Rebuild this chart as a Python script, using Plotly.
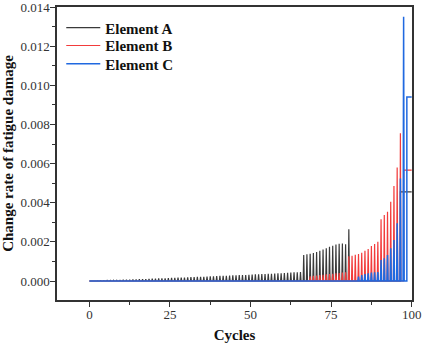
import plotly.graph_objects as go

# Change rate of fatigue damage per cycle for three elements.
# Each list holds one value per cycle, starting at the given first cycle.
a_first_cycle = 1
a_rate = [
    0.0, 0.0, 0.00001, 0.00002, 0.00002, 0.00003, 0.00003, 0.00004, 0.00004, 0.00005,
    0.00006, 0.00006, 0.00007, 0.00008, 0.00008, 0.00009, 0.00010, 0.00010, 0.00011, 0.00012,
    0.00012, 0.00013, 0.00014, 0.00014, 0.00015, 0.00016, 0.00016, 0.00017, 0.00018, 0.00018,
    0.00019, 0.00020, 0.00020, 0.00021, 0.00022, 0.00022, 0.00023, 0.00024, 0.00024, 0.00025,
    0.00026, 0.00026, 0.00027, 0.00028, 0.00029, 0.00029, 0.00030, 0.00031, 0.00031, 0.00032,
    0.00033, 0.00034, 0.00034, 0.00035, 0.00036, 0.00037, 0.00037, 0.00038, 0.00039, 0.00040,
    0.00041, 0.00042, 0.00043, 0.00044, 0.00045, 0.00046,
    0.00133, 0.00137, 0.00139, 0.00143, 0.00148, 0.00154, 0.00161, 0.00167, 0.00175, 0.00180,
    0.00186, 0.00190, 0.00192, 0.00188, 0.00264,
]
b_first_cycle = 69
b_rate = [
    0.00024, 0.00026, 0.00028, 0.00030, 0.00032, 0.00034, 0.00035, 0.00037, 0.00039, 0.00041,
    0.00043, 0.00045,
    0.00127, 0.00129, 0.00134, 0.00138, 0.00145, 0.00155, 0.00163, 0.00179, 0.00189, 0.00201,
    0.00315, 0.00337, 0.00354, 0.00405, 0.00485, 0.00580, 0.00755,
]
c_first_cycle = 84
c_rate = [
    0.00022, 0.00031, 0.00036, 0.00039, 0.00043, 0.00044, 0.00046,
    0.00107, 0.00116, 0.00133, 0.00167, 0.00209, 0.00295, 0.00524, 0.01350,
]

# Final held level of each curve (start cycle, value), running to cycle 100
a_tail = (96.5, 0.00455)
b_tail = (97.5, 0.00567)
c_tail = (98.5, 0.00940)
end_cycle = 100

names = ["Element A", "Element B", "Element C"]
colors = ["#3a3a3a", "#f23b3b", "#2069e0"]
widths = [1.2, 1.2, 1.5]
legend_ids = ["legend", "legend2", "legend3"]
legend_rows = [0.985, 0.924, 0.862]


def spike_path(first_cycle, rates, tail):
    """Each cycle's rate is drawn as a narrow spike centred in its cycle."""
    xs, ys = [0.0], [0.0]
    half = 0.17
    for k, v in enumerate(rates):
        centre = first_cycle + k - 0.5
        xs += [centre - half, centre, centre + half]
        ys += [0.0, v, 0.0]
    tx, tv = tail
    xs += [tx, tx, end_cycle]
    ys += [0.0, tv, tv]
    return xs, ys


series = [
    (a_first_cycle, a_rate, a_tail),
    (b_first_cycle, b_rate, b_tail),
    (c_first_cycle, c_rate, c_tail),
]

fig = go.Figure()
for (first, rates, tail), name, color, w, lg in zip(series, names, colors, widths, legend_ids):
    x, y = spike_path(first, rates, tail)
    fig.add_trace(go.Scatter(
        x=x, y=y, mode="lines", name=name, legend=lg,
        line=dict(color=color, width=w, simplify=False),
    ))

serif = "Times New Roman, Liberation Serif, serif"
axis_font = dict(family=serif, size=13, color="#333333")
title_font = dict(family=serif, size=15, color="#111111")
legend_font = dict(family=serif, size=15, color="#111111", weight="bold")

legend_layout = {}
for lg, row in zip(legend_ids, legend_rows):
    legend_layout[lg] = dict(
        x=0.012, y=row, xanchor="left", yanchor="top",
        bgcolor="rgba(0,0,0,0)", borderwidth=0,
        font=legend_font, itemwidth=34,
    )

fig.update_layout(
    width=422, height=343,
    margin=dict(l=57, r=10, t=7, b=43),
    paper_bgcolor="white", plot_bgcolor="white",
    showlegend=True,
    xaxis=dict(
        range=[-10.05, 100.1], automargin=False,
        tickmode="array", tickvals=[0, 25, 50, 75, 100],
        ticktext=["0", "25", "50", "75", "100"],
        ticks="outside", ticklen=5, tickwidth=1.2, tickcolor="#333333",
        ticklabelstandoff=-3, ticklabeloverflow="allow",
        minor=dict(tickmode="array", tickvals=[12.5, 37.5, 62.5, 87.5],
                   ticks="outside", ticklen=3, tickwidth=1, tickcolor="#333333"),
        showline=True, mirror=True, linecolor="#333333", linewidth=1.5,
        showgrid=False, zeroline=False,
        tickfont=axis_font,
        title=dict(text="<b>Cycles</b>", font=title_font, standoff=12),
    ),
    yaxis=dict(
        range=[-0.00097, 0.014001], automargin=False,
        tickmode="array",
        tickvals=[0, 0.002, 0.004, 0.006, 0.008, 0.010, 0.012, 0.014],
        ticktext=["0.000", "0.002", "0.004", "0.006", "0.008", "0.010", "0.012", "0.014"],
        ticks="outside", ticklen=5, tickwidth=1.2, tickcolor="#333333",
        ticklabelstandoff=-2, ticklabeloverflow="allow",
        minor=dict(tickmode="array",
                   tickvals=[0.001, 0.003, 0.005, 0.007, 0.009, 0.011, 0.013],
                   ticks="outside", ticklen=3, tickwidth=1, tickcolor="#333333"),
        showline=True, mirror=True, linecolor="#333333", linewidth=1.5,
        showgrid=False, zeroline=False,
        tickfont=axis_font,
        title=dict(text="<b>Change rate of fatigue damage</b>", font=title_font,
                   standoff=6),
    ),
    **legend_layout,
)

fig.write_html("out.html")
